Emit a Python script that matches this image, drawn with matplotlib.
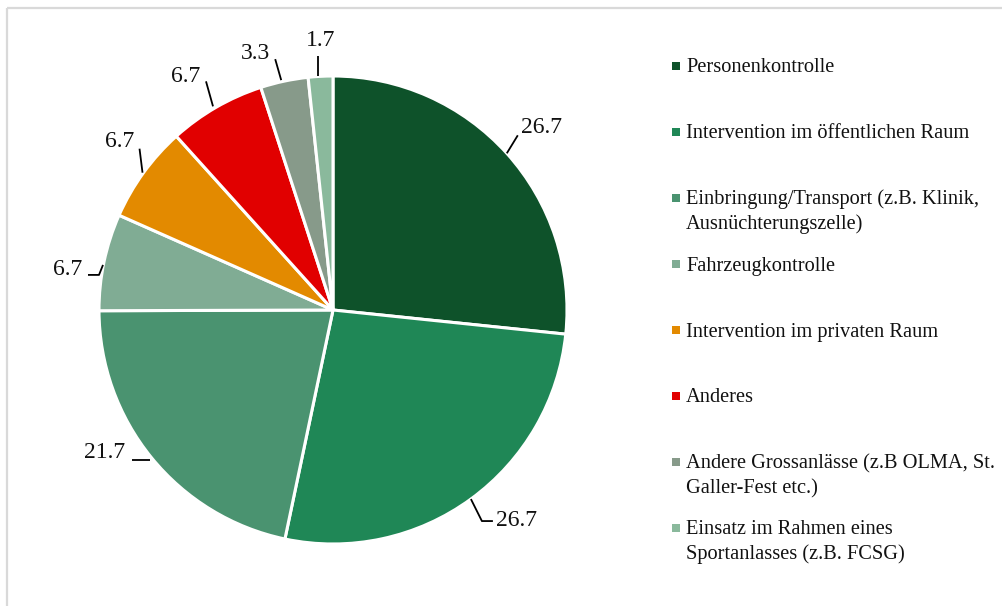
import numpy as np
import matplotlib
matplotlib.use('Agg')
import matplotlib.pyplot as plt
from matplotlib.patches import Rectangle

categories = [
    "Personenkontrolle",
    "Intervention im öffentlichen Raum",
    "Einbringung/Transport (z.B. Klinik,\nAusnüchterungszelle)",
    "Fahrzeugkontrolle",
    "Intervention im privaten Raum",
    "Anderes",
    "Andere Grossanlässe (z.B OLMA, St.\nGaller-Fest etc.)",
    "Einsatz im Rahmen eines\nSportanlasses (z.B. FCSG)",
]
values = [26.7, 26.7, 21.7, 6.7, 6.7, 6.7, 3.3, 1.7]
colors = ["#0E522A", "#1F8756", "#4A9370", "#80AC94",
          "#E38A00", "#E10000", "#879A8A", "#8AB99C"]

FONT = "Liberation Serif"
W, H = 1002, 606
R_PX = 234          # pie radius in pixels
CX, CY = 333, 310   # pie centre (image pixels, y down)
LINE_PX = 25        # legend line height in pixels

fig = plt.figure(figsize=(W / 100, H / 100), dpi=100)

# ── background axis in pixel coords: frame + legend ──────────────────
lax = fig.add_axes([0, 0, 1, 1])
lax.set_xlim(0, W)
lax.set_ylim(H, 0)
lax.axis("off")
lax.plot([7.5, 7.5], [H, 7.5], color="#D9D9D9", lw=1.6, solid_capstyle="butt")
lax.plot([7.5, W], [7.5, 7.5], color="#D9D9D9", lw=1.6, solid_capstyle="butt")

for i, (cat, col) in enumerate(zip(categories, colors)):
    yc = 66 + 66 * i
    nlines = cat.count("\n") + 1
    lax.add_patch(Rectangle((672, yc - 4), 8, 8, color=col, lw=0))
    # baseline alignment uses the last line, so shift down for wrapped labels
    lax.text(686, yc + 6.5 + LINE_PX * (nlines - 1), cat, fontsize=14.7,
             family=FONT, color="#111111", ha="left", va="baseline",
             linespacing=1.41)

# ── pie ──────────────────────────────────────────────────────────────
L = 1.3
half = L * R_PX
ax = fig.add_axes([(CX - half) / W, (H - CY - half) / H, 2 * half / W, 2 * half / H])
wedges, _ = ax.pie(values, colors=colors, startangle=90, counterclock=False,
                   radius=1, wedgeprops=dict(edgecolor="white", linewidth=2.2))
ax.set_xlim(-L, L)
ax.set_ylim(-L, L)
ax.set_aspect("equal")
ax.axis("off")

# leader paths / label offsets in pixels relative to the wedge edge point (y down)
lead_paths = [
    [(0, 0), (11, -18)],
    [(0, 0), (11, 22), (22, 22)],
    [(-2, 2), (-20, 2)],
    [(-1, 3), (-5, 13), (-16, 13)],
    [(-1, 0), (-4, -24)],
    [(-3, -1), (-10, -26)],
    [(-3, -1), (-9, -22)],
    [(-2.5, 0), (-2.5, -20)],
]
label_offsets = [
    (14, -26, "left"),
    (25, 21, "left"),
    (-26, -5, "right"),
    (-22, 8, "right"),
    (-24, -31, "center"),
    (-30, -31, "center"),
    (-29, -28, "center"),
    (0, -36, "center"),
]

s = 1.0 / R_PX
for w, v, path, (dx, dy, ha) in zip(wedges, values, lead_paths, label_offsets):
    th = np.deg2rad((w.theta1 + w.theta2) / 2)
    ex, ey = np.cos(th), np.sin(th)
    xs = [ex + px * s for px, py in path]
    ys = [ey - py * s for px, py in path]
    ax.plot(xs, ys, color="black", lw=1.3, solid_capstyle="butt")
    ax.text(ex + dx * s, ey - dy * s, f"{v:.1f}", fontsize=17, family=FONT,
            color="#111111", ha=ha, va="center")

plt.savefig("out.png", dpi=100)
